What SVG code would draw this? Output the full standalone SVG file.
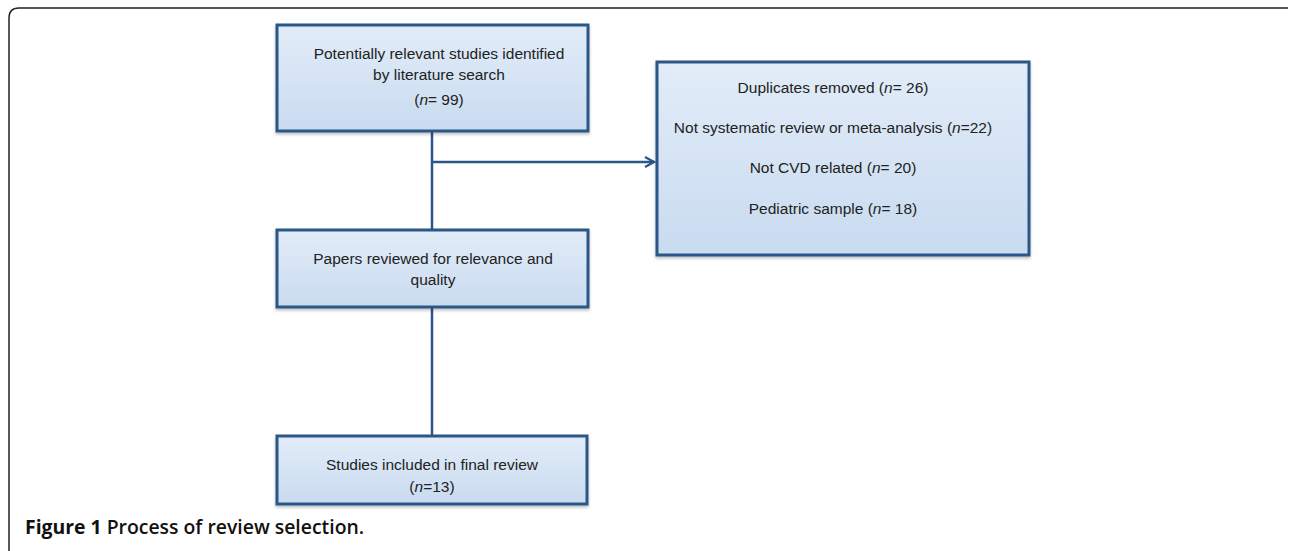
<svg xmlns="http://www.w3.org/2000/svg" width="1290" height="551" viewBox="0 0 1290 551">
<style>
.box{fill:url(#g);stroke:#2a5788;stroke-width:3;filter:url(#sh)}
.t{font-family:"Liberation Sans",Arial,sans-serif;font-size:15.5px;fill:#222;text-anchor:middle}
.c{stroke:#2a5788;stroke-width:2.5;fill:none}
</style>
<defs>
<linearGradient id="g" x1="0" y1="0" x2="0" y2="1"><stop offset="0" stop-color="#e2ecf8"/><stop offset="1" stop-color="#c9dbf0"/></linearGradient>
<filter id="sh" x="-5%" y="-5%" width="110%" height="115%"><feDropShadow dx="0" dy="2" stdDeviation="1.5" flood-color="#000" flood-opacity="0.25"/></filter>
<marker id="ah" markerWidth="12" markerHeight="12" refX="10" refY="6" orient="auto" markerUnits="userSpaceOnUse"><path d="M1,1 L10,6 L1,11" fill="none" stroke="#2a5788" stroke-width="2.2"/></marker>
</defs>
<rect width="1290" height="551" fill="#fff"/>
<path d="M9,551 V18 Q9,8 19,8 H1288" fill="none" stroke="#222" stroke-width="1.5"/>
<g id="connectors">
<line class="c" x1="432" y1="131" x2="432" y2="230"/>
<line class="c" x1="432" y1="307" x2="432" y2="436"/>
<line class="c" x1="432" y1="162" x2="654" y2="162" marker-end="url(#ah)"/>
</g>
<g id="n1">
<rect class="box" x="277" y="25" width="311" height="106"/>
<text class="t" x="439" y="59">Potentially relevant studies identified</text>
<text class="t" x="439" y="80">by literature search</text>
<text class="t" x="439" y="105">(<tspan font-style="italic">n</tspan>= 99)</text>
</g>
<g id="n2">
<rect class="box" x="657" y="62" width="372" height="193"/>
<text class="t" x="833" y="93">Duplicates removed (<tspan font-style="italic">n</tspan>= 26)</text>
<text class="t" x="833" y="133">Not systematic review or meta-analysis (<tspan font-style="italic">n</tspan>=22)</text>
<text class="t" x="833" y="173">Not CVD related (<tspan font-style="italic">n</tspan>= 20)</text>
<text class="t" x="833" y="214">Pediatric sample (<tspan font-style="italic">n</tspan>= 18)</text>
</g>
<g id="n3">
<rect class="box" x="277" y="230" width="311" height="77"/>
<text class="t" x="433" y="264">Papers reviewed for relevance and</text>
<text class="t" x="433" y="285">quality</text>
</g>
<g id="n4">
<rect class="box" x="277" y="436" width="310" height="68"/>
<text class="t" x="432" y="470">Studies included in final review</text>
<text class="t" x="432" y="492">(<tspan font-style="italic">n</tspan>=13)</text>
</g>
<text x="25" y="534" font-family="'Open Sans','Liberation Sans',sans-serif" font-size="19.4" fill="#111"><tspan font-weight="bold">Figure 1</tspan><tspan font-weight="600"> Process of review selection.</tspan></text>
</svg>
